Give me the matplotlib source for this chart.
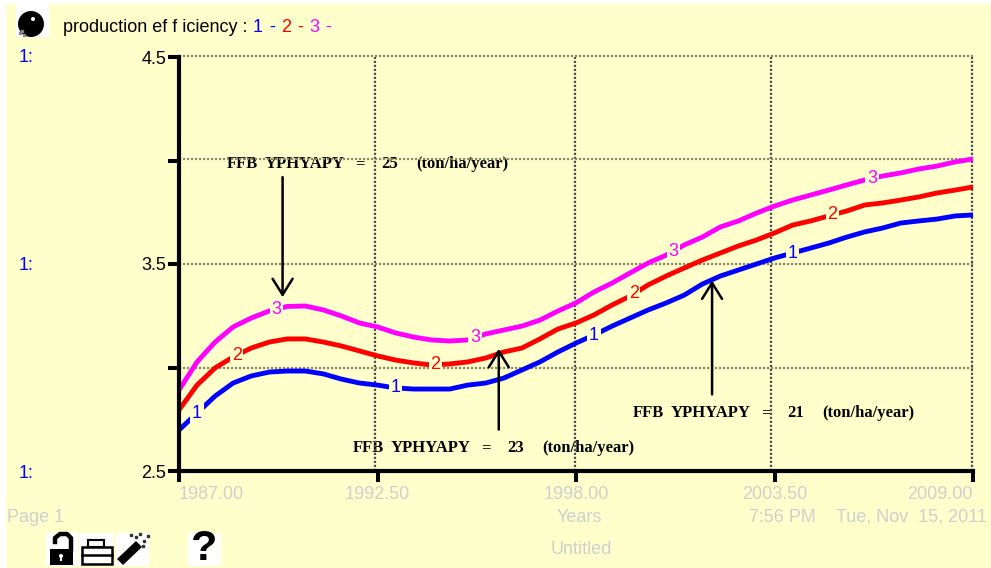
import numpy as np
import matplotlib
matplotlib.use('Agg')
import matplotlib.pyplot as plt
from matplotlib.patches import Rectangle, Circle, Polygon

W, H = 991, 568
CREAM = '#FFFFCC'
FADED = '#CFCFCF'
BLUE = '#0000FF'
RED = '#FF0000'
PINK = '#FF00FF'

plt.rcParams['font.family'] = ['Liberation Sans', 'DejaVu Sans']

# valores, de meio em meio ano
years = [1987 + 0.5 * i for i in range(45)]
series_1 = [2.698, 2.780, 2.862, 2.925, 2.959, 2.978, 2.983, 2.983, 2.969, 2.944,
            2.925, 2.915, 2.901, 2.896, 2.896, 2.896, 2.915, 2.925,
            2.949, 2.988, 3.027, 3.075, 3.118, 3.157, 3.200, 3.239, 3.278, 3.312, 3.350,
            3.403, 3.442, 3.471, 3.500, 3.529, 3.553, 3.577, 3.601, 3.630, 3.655, 3.674,
            3.698, 3.708, 3.717, 3.732, 3.737]
series_2 = [2.795, 2.915, 2.998, 3.051, 3.094, 3.123, 3.138, 3.138, 3.123, 3.104,
            3.080, 3.056, 3.036, 3.022, 3.012, 3.017, 3.027, 3.046,
            3.075, 3.094, 3.138, 3.186, 3.215, 3.254, 3.302, 3.345, 3.399, 3.442, 3.481,
            3.519, 3.553, 3.587, 3.616, 3.650, 3.688, 3.708, 3.732, 3.756, 3.785, 3.795,
            3.809, 3.824, 3.843, 3.857, 3.872]
series_3 = [2.891, 3.027, 3.123, 3.196, 3.239, 3.273, 3.295, 3.297, 3.278, 3.249,
            3.215, 3.196, 3.167, 3.147, 3.133, 3.128, 3.133, 3.162,
            3.181, 3.200, 3.229, 3.273, 3.312, 3.365, 3.408, 3.457, 3.505, 3.543, 3.592,
            3.630, 3.679, 3.708, 3.746, 3.780, 3.809, 3.833, 3.857, 3.882, 3.906, 3.925,
            3.940, 3.959, 3.973, 3.993, 4.007]

# posicao dos numeros sobre as curvas
label_years_1 = [1987.5, 1993.0, 1998.5, 2004.0]
label_years_2 = [1988.6, 1994.1, 1999.6, 2005.1]
label_years_3 = [1989.7, 1995.2, 2000.7, 2006.2]

x_ticks = [1987.0, 1992.5, 1998.0, 2003.5, 2009.0]
x_tick_labels = ['1987.00', '1992.50', '1998.00', '2003.50', '2009.00']
y_ticks = [2.5, 3.0, 3.5, 4.0, 4.5]
y_tick_labels = ['2.5', '', '3.5', '', '4.5']

# a grade do original fica um pouco deslocada dos ticks
grid_years = [1992.43, 1997.97, 2003.40, 2008.96]
grid_values = [3.0, 3.5, 4.005, 4.507]

fig = plt.figure(figsize=(W / 100, H / 100), dpi=100, facecolor='white')

# camada em pixels para o fundo, textos e icones
bg = fig.add_axes([0, 0, 1, 1], zorder=0)
bg.set_xlim(0, W)
bg.set_ylim(H, 0)
bg.axis('off')
bg.add_patch(Rectangle((6, 4), W - 6, H - 4, fc=CREAM, ec='none'))

ax = fig.add_axes([179 / W, 1 - 471 / H, (973 - 179) / W, (471 - 57) / H], zorder=1)
ax.patch.set_alpha(0)
ax.set_xlim(1987, 2009)
ax.set_ylim(2.5, 4.5)

ax.set_xticks(x_ticks)
ax.set_xticklabels(x_tick_labels, color=FADED, fontsize=13)
ax.get_xticklabels()[0].set_ha('left')
ax.get_xticklabels()[0].set_x(1986.9)
ax.get_xticklabels()[-1].set_ha('right')
ax.set_yticks(y_ticks)
ax.set_yticklabels(y_tick_labels, color='black', fontsize=13)
ax.tick_params(axis='x', length=8, width=2.9, pad=3)
ax.tick_params(axis='y', length=8, width=2.9, pad=1)

for gx in grid_years:
    ax.axvline(gx, color='#4d4d4d', linestyle=(0, (1, 0.8)), linewidth=1.6, zorder=1, clip_on=False)
for gy in grid_values:
    ax.axhline(gy, color='#8a8a6a', linestyle=(0, (1, 0.8)), linewidth=1.6, zorder=1, clip_on=False)

for side in ['top', 'right']:
    ax.spines[side].set_visible(False)
for side in ['left', 'bottom']:
    ax.spines[side].set_linewidth(3)
    ax.spines[side].set_zorder(5)

for values, color, label_years, number in [(series_1, BLUE, label_years_1, '1'),
                                           (series_2, RED, label_years_2, '2'),
                                           (series_3, PINK, label_years_3, '3')]:
    ax.plot(years, values, color=color, linewidth=3.5, solid_capstyle='butt', zorder=3, clip_on=False)
    for ly in label_years:
        ax.text(ly, np.interp(ly, years, values), number, color=color, fontsize=13,
                ha='center', va='center', zorder=4,
                bbox=dict(fc=CREAM, ec='none', pad=1.2))

# setas das anotacoes
arrows = [(1989.87, 3.92, 3.34), (1995.86, 2.70, 3.09), (2001.77, 2.87, 3.42)]
for arrow_x, start, end in arrows:
    ax.annotate('', xy=(arrow_x, end), xytext=(arrow_x, start), zorder=6,
                arrowprops=dict(arrowstyle='->,head_length=1.15,head_width=0.72', color='black',
                                lw=1.8, shrinkA=0, shrinkB=0))

serif = ['Liberation Serif', 'DejaVu Serif']
note_parts = [(0, 'FFB'), (38, 'YPHYAPY'), (128, '=')]
for px, py, yield_value in [(227, 164, '25'), (353, 448, '23'), (633, 413, '21')]:
    for offset, part in note_parts:
        bg.text(px + offset, py, part, family=serif, fontweight='bold', fontsize=12,
                ha='left', va='center', zorder=7)
    bg.text(px + 154, py, yield_value, family=serif, fontweight='bold', fontsize=12,
            ha='left', va='center', zorder=7)
    bg.text(px + 189, py, '(ton/ha/year)', family=serif, fontweight='bold', fontsize=12,
            ha='left', va='center', zorder=7)

# titulo com os numeros coloridos
bg.text(63, 27, 'production ef f iciency :', fontsize=13, ha='left', va='center')
legend_parts = [(253, '1', BLUE), (269, '-', BLUE), (281, '2', RED), (297, '-', RED),
                (309, '3', PINK), (325, '-', PINK)]
for px, part, color in legend_parts:
    bg.text(px, 27, part, color=color, fontsize=13, ha='left', va='center')

for py in [57, 265, 473]:
    bg.text(19, py, '1:', color=BLUE, fontsize=13, ha='left', va='center')

bg.text(7, 517, 'Page 1', color=FADED, fontsize=13, ha='left', va='center')
bg.text(579, 517, 'Years', color=FADED, fontsize=13, ha='center', va='center')
bg.text(749, 517, '7:56 PM', color=FADED, fontsize=13, ha='left', va='center')
bg.text(836, 517, 'Tue, Nov  15, 2011', color=FADED, fontsize=13, ha='left', va='center')
bg.text(581, 549, 'Untitled', color=FADED, fontsize=13, ha='center', va='center')

# icones
for px, py, size in [(16, 4, 33), (46, 533, 33), (80, 533, 33), (116, 533, 33), (188, 533, 33)]:
    bg.add_patch(Rectangle((px, py), size, size, fc='white', ec='none'))

bg.add_patch(Circle((31, 24), 13, fc='black', ec='none'))
bg.add_patch(Circle((33, 19), 2, fc='white', ec='none'))
bg.plot([20, 24, 22], [33, 35, 31], 's', color='#888888', markersize=1.5)

# cadeado
bg.add_patch(Rectangle((50, 549), 23, 16, fc='black', ec='none'))
bg.plot([55, 55, 60, 67, 71, 71], [542, 538, 534, 534, 538, 549], color='black', lw=3.2)
bg.add_patch(Circle((61, 556), 2, fc='white', ec='none'))
bg.add_patch(Rectangle((60.2, 556), 1.6, 5, fc='white', ec='none'))

# impressora
bg.add_patch(Rectangle((88, 540), 16, 7, fc='white', ec='black', lw=1.5))
bg.add_patch(Rectangle((82, 547), 30, 17, fc='white', ec='black', lw=1.8))
bg.plot([82, 112], [555, 555], color='black', lw=1.8)

# varinha
bg.add_patch(Polygon([[117, 559], [136, 541], [142, 547], [123, 565]], fc='black', ec='none'))
bg.plot([140, 144, 136, 148, 131, 143], [534, 541, 537, 536, 535, 546], 's', color='#333333', markersize=1.5)

bg.text(204, 549, '?', fontsize=31, fontweight='bold', ha='center', va='center', color='black')

fig.savefig('out.png', dpi=100, facecolor='white')
